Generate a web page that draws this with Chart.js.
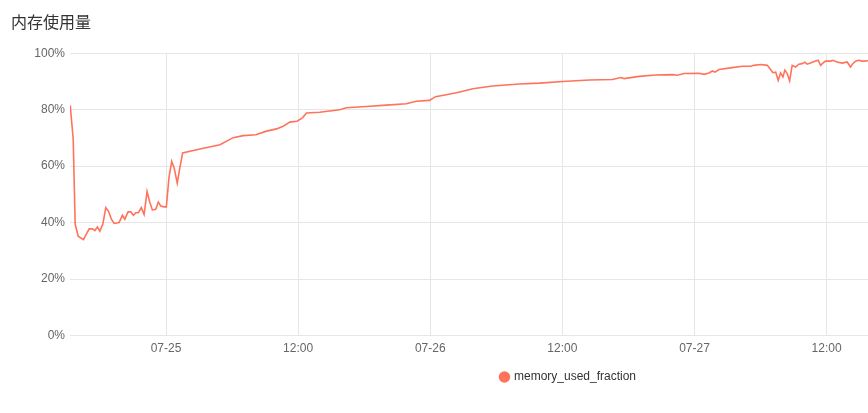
<!DOCTYPE html>
<html>
<head>
<meta charset="utf-8">
<script src="https://cdn.jsdelivr.net/npm/chart.js@4"></script>
<style>
  html, body { margin: 0; padding: 0; background: #fff; overflow: hidden; }
  #wrap { position: relative; width: 1146px; height: 413px; }
</style>
</head>
<body>
<div id="wrap"><canvas id="chart"></canvas></div>
<script>
// hours since 07-25 00:00
var hours = [-8.70, -8.43, -8.25, -7.98, -7.50, -6.98, -6.68, -6.46, -6.23, -6.01,
  -5.74, -5.47, -5.23, -4.96, -4.71, -4.26, -3.96, -3.74, -3.45, -3.20,
  -2.96, -2.75, -2.51, -2.24, -1.99, -1.72, -1.48, -1.24, -0.93, -0.70,
  -0.48, -0.18, 0.03, 0.27, 0.52, 0.75, 1.02, 1.24, 1.51,
  3.08, 4.90, 6.10, 7.01, 8.16, 9.13, 10.04, 10.63, 11.24, 11.90,
  12.39, 12.76, 13.96, 15.78, 16.38, 18.20, 20.01, 21.82, 22.73, 23.93,
  24.48, 25.45, 26.59, 27.86, 29.67, 32.09, 33.91, 36.02, 38.44, 40.55,
  41.31, 41.61, 42.97, 44.49, 45.99, 46.45, 47.05, 48.41, 48.87, 49.32,
  49.62, 49.86, 50.23, 51.43, 52.34, 53.10, 53.40, 54.01, 54.61, 54.91,
  55.12, 55.37, 55.60, 55.82, 56.03, 56.21, 56.42, 56.64, 56.87, 57.18,
  57.48, 57.78, 58.02, 58.23, 58.54, 58.99, 59.23, 59.45, 59.66, 59.90,
  60.35, 60.56, 60.95, 61.40, 61.86, 62.17, 62.38, 62.62, 62.92, 63.22,
  63.44, 63.65, 64.00];

// memory used, percent
var usedPct = [81.5, 69.6, 39.5, 35.2, 34.0, 37.8, 37.8, 37.2, 38.5, 37.0,
  39.4, 45.3, 44.1, 41.2, 39.7, 40.0, 42.6, 41.2, 43.8, 43.8,
  42.6, 43.5, 43.5, 45.3, 42.9, 51.0, 47.3, 44.5, 44.7, 47.3,
  45.9, 45.6, 45.6, 56.0, 61.7, 59.2, 54.0, 59.0, 64.7,
  66.1, 67.6, 70.1, 70.8, 71.1, 72.4, 73.2, 74.1, 75.6, 75.9,
  77.1, 78.8, 79.1, 80.0, 80.7, 81.1, 81.6, 82.1, 83.0, 83.3,
  84.6, 85.3, 86.2, 87.4, 88.4, 89.1, 89.4, 90.0, 90.5, 90.7,
  91.4, 91.0, 91.8, 92.3, 92.4, 92.2, 92.8, 92.9, 92.5, 93.0,
  93.7, 93.3, 94.2, 94.9, 95.4, 95.4, 95.7, 96.0, 95.7, 94.2,
  93.1, 93.3, 90.4, 93.0, 91.6, 94.0, 92.8, 90.2, 95.7, 95.1,
  96.1, 96.3, 96.8, 96.1, 96.5, 97.2, 97.5, 95.7, 96.5, 97.2,
  97.2, 97.5, 96.9, 96.5, 96.9, 95.1, 96.3, 97.2, 97.5, 97.2,
  97.2, 97.3, 97.3];

var xTickHours = [0, 12, 24, 36, 48, 60, 72, 84];
var yTicks = [0, 20, 40, 60, 80, 100];
var seriesName = 'memory_used_fraction';
var chartTitle = '内存使用量';

var points = hours.map(function (h, i) { return { x: h, y: usedPct[i] }; });

function pad(n) { return (n < 10 ? '0' : '') + n; }

var ctx = document.getElementById('chart').getContext('2d');
var chart = new Chart(ctx, {
  type: 'line',
  data: {
    datasets: [{
      label: seriesName,
      data: points,
      borderColor: '#ff735a',
      backgroundColor: '#ff735a',
      borderWidth: 1.6,
      pointRadius: 0,
      pointStyle: 'circle',
      tension: 0
    }]
  },
  options: {
    responsive: true,
    maintainAspectRatio: false,
    animation: false,
    layout: { padding: { left: 11, right: 20, bottom: 20 } },
    plugins: {
      title: {
        display: true,
        text: chartTitle,
        align: 'start',
        color: '#333',
        font: { family: '"Noto Sans CJK SC", sans-serif', size: 16, weight: 'normal' },
        padding: { top: 12, bottom: 22 }
      },
      legend: {
        position: 'bottom',
        labels: {
          usePointStyle: true,
          boxWidth: 7,
          boxHeight: 7,
          color: '#333',
          font: { family: '"Liberation Sans", Arial, sans-serif', size: 12 },
          padding: 9
        }
      },
      tooltip: { enabled: false }
    },
    scales: {
      x: {
        type: 'linear',
        min: -8.72,
        max: 87.19,
        border: { display: false },
        grid: { color: '#e6e6e6', drawTicks: false },
        afterBuildTicks: function (s) { s.ticks = xTickHours.map(function (v) { return { value: v }; }); },
        ticks: {
          padding: 6,
          color: '#666',
          maxRotation: 0,
          autoSkip: false,
          font: { family: '"Liberation Sans", Arial, sans-serif', size: 12 },
          callback: function (v) {
            var d = Math.floor(v / 24);
            var hh = v - d * 24;
            if (hh === 0) return '07-' + pad(25 + d);
            return pad(hh) + ':00';
          }
        }
      },
      y: {
        min: 0,
        max: 100,
        afterFit: function (s) { s.width = 59; },
        border: { display: false },
        grid: { color: '#e6e6e6', drawTicks: false },
        afterBuildTicks: function (s) { s.ticks = yTicks.map(function (v) { return { value: v }; }); },
        ticks: {
          padding: 5,
          color: '#666',
          font: { family: '"Liberation Sans", Arial, sans-serif', size: 12 },
          callback: function (v) { return v + '%'; }
        }
      }
    }
  }
});
</script>
</body>
</html>
